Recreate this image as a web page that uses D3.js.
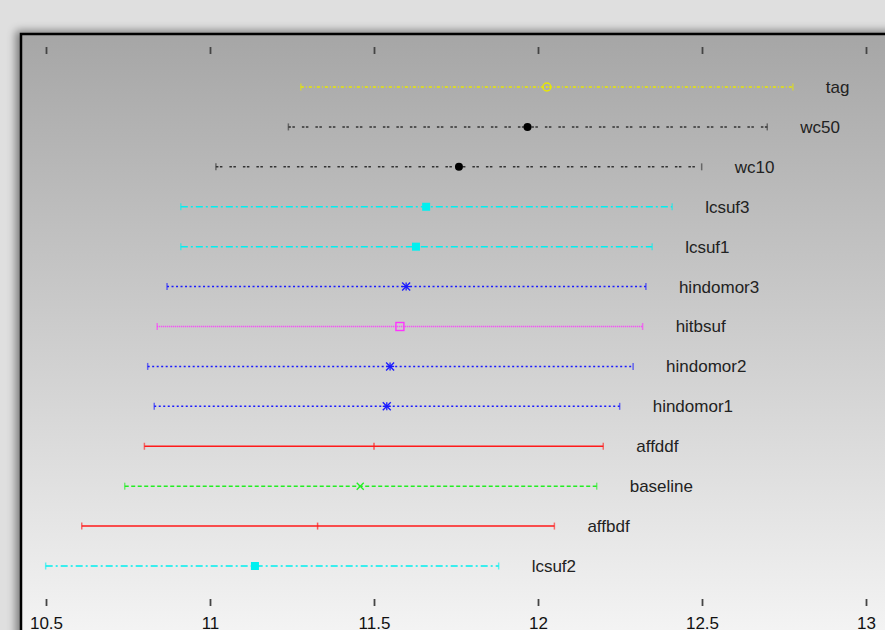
<!DOCTYPE html>
<html>
<head>
<meta charset="utf-8">
<script src="https://cdn.jsdelivr.net/npm/d3@7"></script>
<style>
  body { margin: 0; background: #dfdfdf; }
  svg { display: block; }
</style>
</head>
<body>
<svg id="chart" width="885" height="630"></svg>
<script>
const names = ["tag", "wc50", "wc10", "lcsuf3", "lcsuf1", "hindomor3", "hitbsuf",
  "hindomor2", "hindomor1", "affddf", "baseline", "affbdf", "lcsuf2"];
const means = [12.027, 11.968, 11.759, 11.659, 11.628, 11.598, 11.579,
  11.549, 11.539, 11.500, 11.458, 11.328, 11.137];
const lows = [11.277, 11.239, 11.018, 10.911, 10.911, 10.869, 10.839,
  10.810, 10.830, 10.800, 10.740, 10.609, 10.499];
const highs = [12.777, 12.699, 12.499, 12.409, 12.348, 12.329, 12.319,
  12.290, 12.249, 12.199, 12.179, 12.050, 11.880];
const tickValues = [10.5, 11, 11.5, 12, 12.5, 13];

// line style and marker per series
const styles = {
  tag:       { color: "#e8e800", dash: "3,2,1,2", marker: "circledot" },
  wc50:      { color: "#333", dash: "2.5,1.5,2.5,7", marker: "dot" },
  wc10:      { color: "#333", dash: "2.5,1.5,2.5,7", marker: "dot" },
  lcsuf3:    { color: "#00f0f0", dash: "7,3,2,3", marker: "square" },
  lcsuf1:    { color: "#00f0f0", dash: "7,3,2,3", marker: "square" },
  hindomor3: { color: "#1a1aff", dash: "2,2.5", marker: "star" },
  hitbsuf:   { color: "#ff33ff", dash: "1,1", marker: "opensquare" },
  hindomor2: { color: "#1a1aff", dash: "2,2.5", marker: "star" },
  hindomor1: { color: "#1a1aff", dash: "2,2.5", marker: "star" },
  affddf:    { color: "#ff1a1a", dash: null, marker: "vtick" },
  baseline:  { color: "#22ee22", dash: "4,2.5", marker: "x" },
  affbdf:    { color: "#ff1a1a", dash: null, marker: "vtick" },
  lcsuf2:    { color: "#00f0f0", dash: "7,3,2,3", marker: "square" }
};

const rows = names.map((n, i) => ({ name: n, mean: means[i], low: lows[i], high: highs[i] }));

const svg = d3.select("#chart");
const defs = svg.append("defs");

const grad = defs.append("linearGradient")
  .attr("id", "bg").attr("x1", 0).attr("y1", 0).attr("x2", 0).attr("y2", 1);
grad.append("stop").attr("offset", "0%").attr("stop-color", "#a6a6a6");
grad.append("stop").attr("offset", "100%").attr("stop-color", "#f9f9f9");

const shadow = defs.append("filter").attr("id", "shadow")
  .attr("x", "-10%").attr("y", "-10%").attr("width", "130%").attr("height", "130%");
shadow.append("feDropShadow")
  .attr("dx", -4).attr("dy", -2).attr("stdDeviation", 4)
  .attr("flood-color", "#000").attr("flood-opacity", 0.45);

const x = d3.scaleLinear().domain([10.5, 13]).range([46, 866]);
const y = d3.scalePoint().domain(names).range([87, 566]);

// plot frame
svg.append("rect")
  .attr("x", 21).attr("y", 34)
  .attr("width", 900).attr("height", 640)
  .attr("fill", "url(#bg)")
  .attr("stroke", "#000").attr("stroke-width", 2.5)
  .attr("filter", "url(#shadow)");

// ticks
const topAxis = svg.append("g")
  .attr("transform", "translate(0,54)")
  .call(d3.axisTop(x).tickValues(tickValues).tickSize(7).tickFormat(""));
topAxis.select(".domain").remove();

const bottomAxis = svg.append("g")
  .attr("transform", "translate(0,599)")
  .call(d3.axisBottom(x).tickValues(tickValues).tickSize(7).tickPadding(11)
    .tickFormat(d3.format("")));
bottomAxis.select(".domain").remove();

svg.selectAll(".tick line").attr("stroke", "#444").attr("stroke-width", 1.8);
bottomAxis.selectAll("text")
  .attr("font-family", "'Liberation Sans', Arial, sans-serif")
  .attr("font-size", "17px")
  .attr("fill", "#111");

// error bars
const bars = svg.append("g").selectAll("g")
  .data(rows).enter().append("g");

bars.append("line")
  .attr("x1", d => x(d.low)).attr("x2", d => x(d.high))
  .attr("y1", d => y(d.name)).attr("y2", d => y(d.name))
  .attr("stroke", d => styles[d.name].color)
  .attr("stroke-width", 1.5)
  .attr("stroke-dasharray", d => styles[d.name].dash);

["low", "high"].forEach(k => {
  bars.append("line")
    .attr("x1", d => x(d[k])).attr("x2", d => x(d[k]))
    .attr("y1", d => y(d.name) - 3.5).attr("y2", d => y(d.name) + 3.5)
    .attr("stroke", d => styles[d.name].color)
    .attr("stroke-width", 1.5)
    .attr("opacity", 0.6);
});

// markers
bars.each(function(d) {
  const g = d3.select(this);
  const s = styles[d.name];
  const cx = x(d.mean);
  const cy = y(d.name);

  if (s.marker === "dot") {
    g.append("circle").attr("cx", cx).attr("cy", cy).attr("r", 4).attr("fill", "#000");
  } else if (s.marker === "circledot") {
    g.append("circle").attr("cx", cx).attr("cy", cy).attr("r", 4)
      .attr("fill", "none").attr("stroke", s.color).attr("stroke-width", 1.4);
    g.append("circle").attr("cx", cx).attr("cy", cy).attr("r", 1).attr("fill", s.color);
  } else if (s.marker === "square") {
    g.append("rect").attr("x", cx - 4).attr("y", cy - 4)
      .attr("width", 8).attr("height", 8).attr("fill", s.color);
  } else if (s.marker === "opensquare") {
    g.append("rect").attr("x", cx - 4).attr("y", cy - 4)
      .attr("width", 8).attr("height", 8)
      .attr("fill", "none").attr("stroke", s.color).attr("stroke-width", 1.4);
  } else if (s.marker === "star") {
    const r = 4;
    [[-r, -r, r, r], [-r, r, r, -r], [-r, 0, r, 0], [0, -r, 0, r]].forEach(p => {
      g.append("line")
        .attr("x1", cx + p[0]).attr("y1", cy + p[1])
        .attr("x2", cx + p[2]).attr("y2", cy + p[3])
        .attr("stroke", s.color).attr("stroke-width", 1.3);
    });
  } else if (s.marker === "x") {
    const r = 3.5;
    [[-r, -r, r, r], [-r, r, r, -r]].forEach(p => {
      g.append("line")
        .attr("x1", cx + p[0]).attr("y1", cy + p[1])
        .attr("x2", cx + p[2]).attr("y2", cy + p[3])
        .attr("stroke", s.color).attr("stroke-width", 1.3);
    });
  } else if (s.marker === "vtick") {
    g.append("line")
      .attr("x1", cx).attr("x2", cx)
      .attr("y1", cy - 3.5).attr("y2", cy + 3.5)
      .attr("stroke", s.color).attr("stroke-width", 1.5).attr("opacity", 0.7);
  }
});

// series labels
bars.append("text")
  .attr("x", d => x(d.high) + 33)
  .attr("y", d => y(d.name))
  .attr("dy", "0.35em")
  .attr("font-family", "'Liberation Sans', Arial, sans-serif")
  .attr("font-size", "17px")
  .attr("fill", "#222")
  .text(d => d.name);
</script>
</body>
</html>
